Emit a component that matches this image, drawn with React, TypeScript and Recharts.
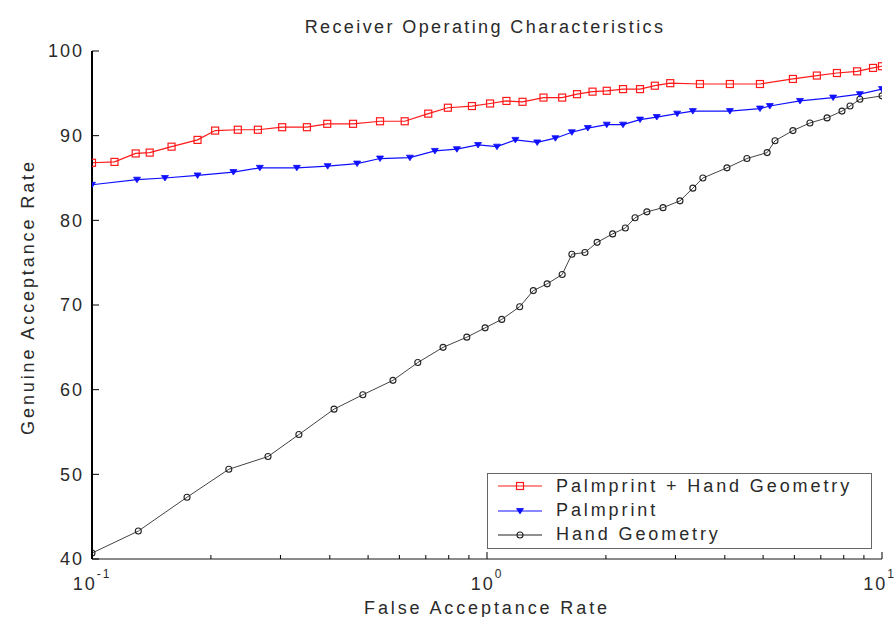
import { LineChart, Line, XAxis, YAxis, Legend } from 'recharts'

// False acceptance rate (%) / genuine acceptance rate (%) per operating point
const FUSION_FAR = [0.1, 0.114, 0.129, 0.14, 0.159, 0.185, 0.205, 0.234, 0.263, 0.303, 0.35, 0.394, 0.458, 0.536, 0.619, 0.71, 0.796, 0.916, 1.018, 1.12, 1.23, 1.39, 1.55, 1.69, 1.85, 2.01, 2.21, 2.44, 2.66, 2.91, 3.46, 4.12, 4.91, 5.95, 6.84, 7.69, 8.65, 9.49, 10]
const FUSION_GAR = [86.8, 86.9, 87.9, 88.0, 88.7, 89.5, 90.6, 90.7, 90.7, 91.0, 91.0, 91.4, 91.4, 91.7, 91.7, 92.6, 93.3, 93.5, 93.8, 94.1, 94.0, 94.5, 94.5, 94.9, 95.2, 95.3, 95.5, 95.5, 95.9, 96.2, 96.1, 96.1, 96.1, 96.7, 97.1, 97.4, 97.6, 98.0, 98.2]

const PALM_FAR = [0.1, 0.13, 0.153, 0.185, 0.228, 0.266, 0.33, 0.395, 0.469, 0.536, 0.638, 0.738, 0.839, 0.949, 1.06, 1.18, 1.34, 1.49, 1.64, 1.8, 2.01, 2.21, 2.44, 2.69, 3.03, 3.32, 4.12, 4.91, 5.2, 6.2, 7.52, 8.79, 10]
const PALM_GAR = [84.2, 84.8, 85.0, 85.3, 85.7, 86.2, 86.2, 86.4, 86.7, 87.3, 87.4, 88.2, 88.4, 88.9, 88.7, 89.5, 89.2, 89.7, 90.4, 90.9, 91.3, 91.3, 91.9, 92.2, 92.6, 92.9, 92.9, 93.2, 93.5, 94.1, 94.5, 94.9, 95.5]

const HAND_FAR = [0.1, 0.131, 0.174, 0.222, 0.279, 0.334, 0.41, 0.485, 0.578, 0.668, 0.774, 0.889, 0.989, 1.09, 1.21, 1.31, 1.42, 1.55, 1.64, 1.77, 1.9, 2.08, 2.24, 2.37, 2.54, 2.79, 3.08, 3.32, 3.52, 4.05, 4.55, 5.12, 5.36, 5.95, 6.57, 7.26, 7.92, 8.3, 8.79, 10]
const HAND_GAR = [40.7, 43.3, 47.3, 50.6, 52.1, 54.7, 57.7, 59.4, 61.1, 63.2, 65.0, 66.2, 67.3, 68.3, 69.8, 71.7, 72.5, 73.6, 76.0, 76.2, 77.4, 78.4, 79.1, 80.3, 81.0, 81.5, 82.3, 83.8, 85.0, 86.2, 87.3, 88.0, 89.4, 90.6, 91.5, 92.1, 92.9, 93.5, 94.3, 94.7]

const SERIES_NAMES = ['Palmprint + Hand Geometry', 'Palmprint', 'Hand Geometry']

const X_MAJOR = [0.1, 1, 10]
const X_EXPONENTS = ['-1', '0', '1']
const X_MINOR = [0.2, 0.3, 0.4, 0.5, 0.6, 0.7, 0.8, 0.9, 2, 3, 4, 5, 6, 7, 8, 9]
const Y_TICKS = [40, 50, 60, 70, 80, 90, 100]

const zip = (far: number[], gar: number[]) => far.map((f, i) => ({ far: f, gar: gar[i] }))
const fusionData = zip(FUSION_FAR, FUSION_GAR)
const palmData = zip(PALM_FAR, PALM_GAR)
const handData = zip(HAND_FAR, HAND_GAR)

const FONT = '"Liberation Sans", Arial, sans-serif'
const TEXT = '#2a2a2a'
const RED = '#ff1a1a'
const BLUE = '#1010ff'
const BLACK = '#222'

// markers
const Square = ({ cx, cy }: any) => (
  <rect x={cx - 3.5} y={cy - 3.5} width={7} height={7} fill="none" stroke={RED} strokeWidth={1.2} />
)
const Tri = ({ cx, cy }: any) => (
  <path d={`M${cx - 3.5},${cy - 2.5} L${cx + 3.5},${cy - 2.5} L${cx},${cy + 3} Z`} fill={BLUE} stroke={BLUE} strokeWidth={0.8} />
)
const Circ = ({ cx, cy }: any) => (
  <circle cx={cx} cy={cy} r={3} fill="none" stroke={BLACK} strokeWidth={1.1} />
)

const BottomTick = ({ x, y, payload }: any) => {
  const i = X_MAJOR.indexOf(payload.value)
  // last label sits against the page edge, so anchor it by its end
  const last = i === X_MAJOR.length - 1
  return (
    <g>
      <line x1={x} y1={y} x2={x} y2={y - (i >= 0 ? 7 : 4)} stroke="#000" strokeWidth={1} />
      {i >= 0 && (
        <text
          x={last ? x + 14 : x}
          y={y + 31}
          textAnchor={last ? 'end' : 'middle'}
          fill={TEXT}
          fontSize={18}
          fontFamily={FONT}
          style={{ letterSpacing: '2px' }}
        >
          <tspan>10</tspan>
          <tspan dy={-12} fontSize={12}>{X_EXPONENTS[i]}</tspan>
        </text>
      )}
    </g>
  )
}

const TopTick = ({ x, y, payload }: any) => {
  const major = X_MAJOR.indexOf(payload.value) >= 0
  return <line x1={x} y1={y} x2={x} y2={y + (major ? 7 : 4)} stroke="#000" strokeWidth={1} />
}

const LeftTick = ({ x, y, payload }: any) => (
  <g>
    <line x1={x} y1={y} x2={x + 7} y2={y} stroke="#000" strokeWidth={1} />
    <text x={x - 8} y={y} dy="0.36em" textAnchor="end" fill={TEXT} fontSize={18} fontFamily={FONT} style={{ letterSpacing: '2px' }}>
      {payload.value}
    </text>
  </g>
)

const RightTick = ({ x, y }: any) => <line x1={x} y1={y} x2={x - 7} y2={y} stroke="#000" strokeWidth={1} />

const LEGEND_MARKERS = [
  { color: RED, Marker: Square },
  { color: BLUE, Marker: Tri },
  { color: BLACK, Marker: Circ },
]

const RocLegend = () => (
  <div
    style={{
      boxSizing: 'border-box',
      width: 385,
      height: 76,
      border: '1.5px solid #666',
      background: '#fff',
      fontFamily: FONT,
      fontSize: 18,
      letterSpacing: '2.9px',
      color: TEXT,
      paddingTop: 0,
    }}
  >
    {SERIES_NAMES.map((name, i) => {
      const { color, Marker } = LEGEND_MARKERS[i]
      return (
        <div key={name} style={{ display: 'flex', alignItems: 'center', height: 24.4 }}>
          <svg width={68} height={24} style={{ flex: 'none' }}>
            <line x1={10} y1={12} x2={54} y2={12} stroke={color} strokeWidth={1.2} />
            <Marker cx={32} cy={12} />
          </svg>
          <span style={{ whiteSpace: 'nowrap' }}>{name}</span>
        </div>
      )
    })}
  </div>
)

export default function App() {
  return (
    <div style={{ position: 'absolute', left: 0, top: 0, width: 896, height: 617, background: '#fff' }}>
      <LineChart width={896} height={617} margin={{ top: 51, right: 14, bottom: 0, left: 0 }}>
        <XAxis
          dataKey="far"
          type="number"
          scale="log"
          domain={[0.1, 10]}
          allowDataOverflow
          ticks={[...X_MAJOR, ...X_MINOR]}
          interval={0}
          height={58}
          tickSize={0}
          tickMargin={0}
          tickLine={false}
          axisLine={{ stroke: '#8a8a8a', strokeWidth: 2 }}
          tick={<BottomTick />}
        />
        <XAxis
          xAxisId="top"
          orientation="top"
          dataKey="far"
          type="number"
          scale="log"
          domain={[0.1, 10]}
          allowDataOverflow
          ticks={[...X_MAJOR, ...X_MINOR]}
          interval={0}
          height={0}
          tickSize={0}
          tickMargin={0}
          tickLine={false}
          axisLine={{ stroke: '#000', strokeWidth: 1.5 }}
          tick={<TopTick />}
        />
        <YAxis
          type="number"
          domain={[40, 100]}
          ticks={Y_TICKS}
          interval={0}
          width={92}
          tickSize={0}
          tickMargin={0}
          tickLine={false}
          axisLine={{ stroke: '#000', strokeWidth: 2 }}
          tick={<LeftTick />}
        />
        <YAxis
          yAxisId="right"
          orientation="right"
          type="number"
          domain={[40, 100]}
          ticks={Y_TICKS}
          interval={0}
          width={0}
          tickSize={0}
          tickMargin={0}
          tickLine={false}
          axisLine={{ stroke: '#000', strokeWidth: 2 }}
          tick={<RightTick />}
        />
        <Line
          data={handData}
          dataKey="gar"
          name={SERIES_NAMES[2]}
          stroke="#444"
          strokeWidth={1}
          dot={(p: any) => <Circ key={p.index} cx={p.cx} cy={p.cy} />}
          isAnimationActive={false}
        />
        <Line
          data={palmData}
          dataKey="gar"
          name={SERIES_NAMES[1]}
          stroke={BLUE}
          strokeWidth={1.2}
          dot={(p: any) => <Tri key={p.index} cx={p.cx} cy={p.cy} />}
          isAnimationActive={false}
        />
        <Line
          data={fusionData}
          dataKey="gar"
          name={SERIES_NAMES[0]}
          stroke={RED}
          strokeWidth={1.2}
          dot={(p: any) => <Square key={p.index} cx={p.cx} cy={p.cy} />}
          isAnimationActive={false}
        />
        <Legend
          layout="vertical"
          align="center"
          verticalAlign="middle"
          content={<RocLegend />}
          wrapperStyle={{ position: 'absolute', left: 487, top: 473, width: 385, height: 76 }}
        />
        <text x={485} y={33} textAnchor="middle" fill={TEXT} fontSize={18} fontFamily={FONT} style={{ letterSpacing: '2.4px' }}>
          Receiver Operating Characteristics
        </text>
        <text x={487} y={614} textAnchor="middle" fill={TEXT} fontSize={18} fontFamily={FONT} style={{ letterSpacing: '2.9px' }}>
          False Acceptance Rate
        </text>
        <text
          x={0}
          y={0}
          transform="translate(34, 297) rotate(-90)"
          textAnchor="middle"
          fill={TEXT}
          fontSize={18}
          fontFamily={FONT}
          style={{ letterSpacing: '2.9px' }}
        >
          Genuine Acceptance Rate
        </text>
      </LineChart>
    </div>
  )
}
